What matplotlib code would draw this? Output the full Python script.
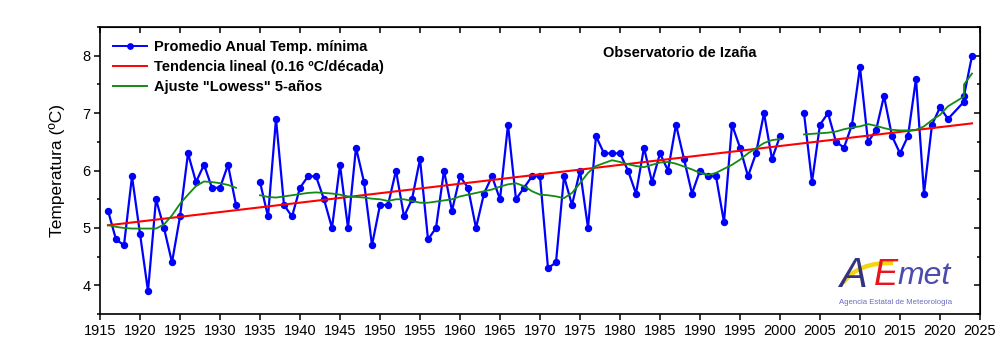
import numpy as np
import matplotlib
matplotlib.use("Agg")
import matplotlib.pyplot as plt
from matplotlib.path import Path
import matplotlib.patches as mpatches

plt.rcParams["font.family"] = ["Liberation Sans", "DejaVu Sans"]

# Años (1933-34 y 2001-02 sin datos; 2023 aparece dos veces en la serie original)
years = [1916, 1917, 1918, 1919, 1920, 1921, 1922, 1923, 1924, 1925, 1926, 1927,
         1928, 1929, 1930, 1931, 1932, 1933, 1934,
         1935, 1936, 1937, 1938, 1939, 1940, 1941, 1942, 1943, 1944, 1945, 1946,
         1947, 1948, 1949, 1950, 1951, 1952, 1953, 1954, 1955, 1956, 1957, 1958,
         1959, 1960, 1961, 1962, 1963, 1964, 1965, 1966, 1967, 1968, 1969, 1970,
         1971, 1972, 1973, 1974, 1975, 1976, 1977, 1978, 1979, 1980, 1981, 1982,
         1983, 1984, 1985, 1986, 1987, 1988, 1989, 1990, 1991, 1992, 1993, 1994,
         1995, 1996, 1997, 1998, 1999, 2000, 2001, 2002,
         2003, 2004, 2005, 2006, 2007, 2008, 2009, 2010, 2011, 2012, 2013, 2014,
         2015, 2016, 2017, 2018, 2019, 2020, 2021, 2023, 2023, 2024]

tmin = [5.3, 4.8, 4.7, 5.9, 4.9, 3.9, 5.5, 5.0, 4.4, 5.2, 6.3, 5.8,
        6.1, 5.7, 5.7, 6.1, 5.4, np.nan, np.nan,
        5.8, 5.2, 6.9, 5.4, 5.2, 5.7, 5.9, 5.9, 5.5, 5.0, 6.1, 5.0,
        6.4, 5.8, 4.7, 5.4, 5.4, 6.0, 5.2, 5.5, 6.2, 4.8, 5.0, 6.0,
        5.3, 5.9, 5.7, 5.0, 5.6, 5.9, 5.5, 6.8, 5.5, 5.7, 5.9, 5.9,
        4.3, 4.4, 5.9, 5.4, 6.0, 5.0, 6.6, 6.3, 6.3, 6.3, 6.0, 5.6,
        6.4, 5.8, 6.3, 6.0, 6.8, 6.2, 5.6, 6.0, 5.9, 5.9, 5.1, 6.8,
        6.4, 5.9, 6.3, 7.0, 6.2, 6.6, np.nan, np.nan,
        7.0, 5.8, 6.8, 7.0, 6.5, 6.4, 6.8, 7.8, 6.5, 6.7, 7.3, 6.6,
        6.3, 6.6, 7.6, 5.6, 6.8, 7.1, 6.9, 7.2, 7.3, 8.0]

lowess = [5.05, 5.02, 5.0, 4.99, 4.99, 4.99, 4.99, 5.06, 5.22, 5.42, 5.58, 5.73,
          5.81, 5.80, 5.78, 5.75, 5.70, np.nan, np.nan,
          5.57, 5.54, 5.53, 5.55, 5.57, 5.59, 5.61, 5.62, 5.61, 5.60, 5.58, 5.55,
          5.54, 5.53, 5.51, 5.50, 5.47, 5.50, 5.50, 5.47, 5.44, 5.44, 5.46, 5.48,
          5.50, 5.55, 5.58, 5.61, 5.64, 5.67, 5.72, 5.76, 5.78, 5.73, 5.64, 5.58,
          5.57, 5.55, 5.52, 5.61, 5.78, 5.96, 6.08, 6.13, 6.18, 6.15, 6.11, 6.08,
          6.06, 6.10, 6.14, 6.15, 6.12, 6.07, 6.02, 5.96, 5.92, 5.96, 6.03, 6.10,
          6.19, 6.30, 6.39, 6.48, 6.53, 6.55, np.nan, np.nan,
          6.63, 6.64, 6.65, 6.66, 6.68, 6.72, 6.75, 6.77, 6.81, 6.78, 6.74, 6.71,
          6.70, 6.70, 6.71, 6.77, 6.88, 6.97, 7.12, 7.29, 7.50, 7.69]

x = np.array(years, dtype=float)
y = np.array(tmin, dtype=float)
ok = ~np.isnan(y)
slope, icpt = np.polyfit(x[ok], y[ok], 1)
xt = np.array([x[ok].min(), x[ok].max()])

BLUE = "#0000FF"
RED = "#FF0000"
GREEN = "#138a13"

fig = plt.figure(figsize=(10, 3.61), dpi=100)
ax = fig.add_axes([0.100, 0.130, 0.880, 0.795])

ax.plot(x, y, color=BLUE, lw=1.6, marker="o", ms=4.3,
        label="Promedio Anual Temp. mínima", zorder=3)
ax.plot(xt, icpt + slope * xt, color=RED, lw=1.5,
        label="Tendencia lineal (0.16 ºC/década)", zorder=4)
ax.plot(x, lowess, color=GREEN, lw=1.3,
        label='Ajuste "Lowess" 5-años', zorder=5)

ax.set_xlim(1915, 2025)
ax.set_ylim(3.5, 8.5)
ax.set_xticks(np.arange(1915, 2026, 5))
ax.set_yticks([4, 5, 6, 7, 8])
ax.set_yticks(np.arange(3.5, 8.6, 0.5), minor=True)
ax.tick_params(axis="both", which="major", direction="out", length=4,
               width=1.1, labelsize=10.5, pad=3)
ax.tick_params(axis="y", which="minor", direction="out", length=2.5, width=1.1)
ax.set_ylabel("Temperatura (ºC)", fontsize=12.5, labelpad=12)
for s in ax.spines.values():
    s.set_linewidth(1.2)

# ticks espejo hacia dentro arriba y a la derecha
top = ax.secondary_xaxis("top")
top.set_xticks(np.arange(1915, 2026, 5))
top.tick_params(direction="in", length=4.5, width=1.1, labeltop=False)
right = ax.secondary_yaxis("right")
right.set_yticks([4, 5, 6, 7, 8])
right.set_yticks(np.arange(3.5, 8.6, 0.5), minor=True)
right.tick_params(which="major", direction="in", length=4.5, width=1.1, labelright=False)
right.tick_params(which="minor", direction="in", length=2.5, width=1.1)

leg = ax.legend(loc="upper left", frameon=False, handlelength=2.35,
                borderaxespad=0.5, labelspacing=0.42, handletextpad=0.45,
                prop={"weight": "bold", "size": 10.5}, markerscale=0.9)
for h in leg.legend_handles:
    h.set_linewidth(1.4)

ax.text(0.5716, 0.895, "Observatorio de Izaña", transform=ax.transAxes,
        fontsize=10.5, fontweight="bold", ha="left", va="baseline")

# logo AEMet aproximado
def fx(px):
    return px / 1000.0

def fy(py):
    return 1 - py / 361.0

swoosh = Path([(fx(843), fy(283)), (fx(858), fy(262)), (fx(893), fy(263))],
              [Path.MOVETO, Path.CURVE3, Path.CURVE3])
fig.add_artist(mpatches.PathPatch(swoosh, transform=fig.transFigure,
                                  fill=False, ec="#f7d50c", lw=3.2, zorder=6))
fig.text(fx(853), fy(287), "A", fontsize=30, style="italic", color="#34347e",
         ha="center", va="baseline", zorder=7)
fig.text(fx(886), fy(285), "E", fontsize=26, style="italic", color="#e8141e",
         ha="center", va="baseline", zorder=7)
fig.text(fx(897), fy(284), "met", fontsize=23, style="italic", color="#4b4bb0",
         ha="left", va="baseline", zorder=7)
fig.text(fx(896), fy(304), "Agencia Estatal de Meteorología", fontsize=5.6,
         color="#6a6ac0", ha="center", va="baseline")

fig.savefig("out.png", dpi=100)
